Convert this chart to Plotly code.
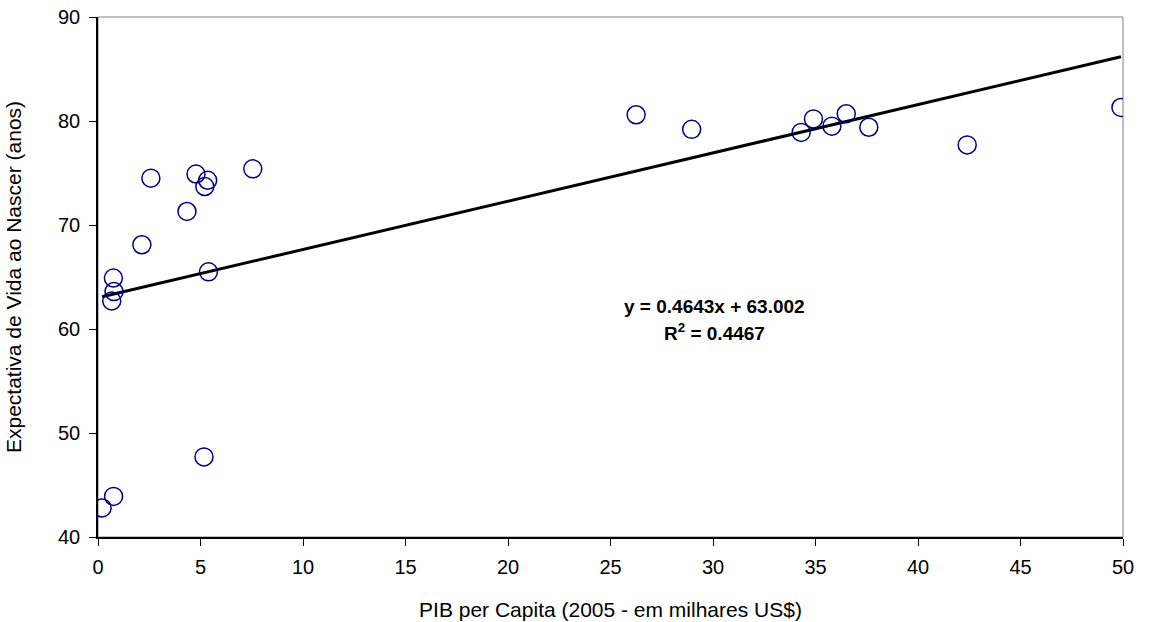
import plotly.graph_objects as go

# Data
pib = [0.2, 0.76, 0.75, 0.67, 0.78, 2.14, 2.58, 4.34, 4.78, 5.21, 5.35, 5.39, 5.17, 7.55,
       26.25, 28.96, 34.3, 34.9, 35.8, 36.5, 37.6, 42.4, 49.9]
expectativa = [42.8, 43.9, 64.9, 62.7, 63.6, 68.1, 74.5, 71.3, 74.9, 73.7, 74.3, 65.5, 47.7, 75.4,
               80.6, 79.2, 78.9, 80.2, 79.5, 80.7, 79.4, 77.7, 81.3]
slope = 0.4643
intercept = 63.002
r2 = 0.4467

x_ticks = list(range(0, 51, 5))
y_ticks = list(range(40, 91, 10))

trend_x = [min(pib), max(pib)]
trend_y = [slope * v + intercept for v in trend_x]

font_family = "Liberation Sans, Arial, sans-serif"

fig = go.Figure()
fig.add_trace(go.Scatter(
    x=trend_x, y=trend_y, mode="lines",
    line=dict(color="black", width=3), showlegend=False, hoverinfo="skip"))
fig.add_trace(go.Scatter(
    x=pib, y=expectativa, mode="markers",
    marker=dict(symbol="circle-open", size=18, color="#000080", line=dict(width=1.5, color="#000080")),
    showlegend=False))

fig.add_shape(type="rect", xref="paper", yref="paper", x0=0, y0=0, x1=1, y1=1,
              line=dict(color="#808080", width=1), layer="below")

fig.add_annotation(x=0.601, y=0.444, xref="paper", yref="paper",
                   text=f"<b>y = {slope}x + {intercept:.3f}</b>",
                   showarrow=False, font=dict(family=font_family, size=19, color="black"))
fig.add_annotation(x=0.601, y=0.394, xref="paper", yref="paper",
                   text=f"<b>R<sup>2</sup> = {r2}</b>",
                   showarrow=False, font=dict(family=font_family, size=19, color="black"))

fig.update_layout(
    width=1155, height=622,
    margin=dict(l=98, r=32, t=17, b=85),
    paper_bgcolor="white", plot_bgcolor="white",
    font=dict(family=font_family, size=20, color="black"),
    xaxis=dict(range=[0, 50], tickvals=x_ticks, ticks="outside", ticklen=7, tickcolor="black",
               showline=True, linecolor="black", linewidth=1.5, showgrid=False, zeroline=False,
               automargin=False, ticklabelstandoff=4, ticklabeloverflow="allow",
               title=dict(text="PIB per Capita (2005 - em milhares US$)", standoff=26,
                          font=dict(size=21)),
               tickfont=dict(size=20)),
    yaxis=dict(range=[40, 90], tickvals=y_ticks, ticks="outside", ticklen=7, tickcolor="black",
               showline=True, linecolor="black", linewidth=1.5, showgrid=False, zeroline=False,
               automargin=False, ticklabelstandoff=5, ticklabeloverflow="allow",
               title=dict(text="Expectativa de Vida ao Nascer (anos)", standoff=31,
                          font=dict(size=21)),
               tickfont=dict(size=20)),
)

fig.write_html("out.html", config={"displayModeBar": False},
               post_script="document.body.style.margin='0';document.body.style.overflow='hidden';")
